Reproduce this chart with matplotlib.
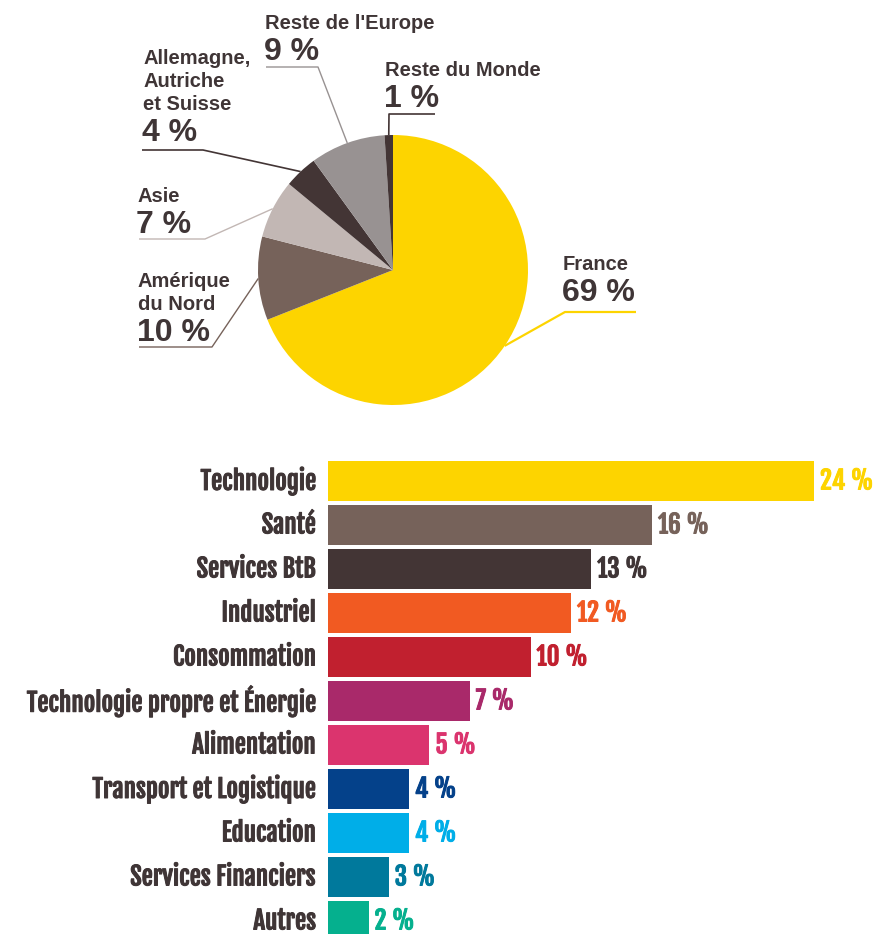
import numpy as np
import matplotlib.pyplot as plt
from matplotlib import font_manager
import matplotlib.patheffects as pe

# ── données ──
pie_labels = ["France", "Amérique\ndu Nord", "Asie", "Allemagne,\nAutriche\net Suisse",
              "Reste de l'Europe", "Reste du Monde"]
pie_values = [69, 10, 7, 4, 9, 1]
pie_colors = ["#FDD400", "#76625A", "#C2B7B4", "#433535", "#989292", "#433535"]

sectors = ["Technologie", "Santé", "Services BtB", "Industriel", "Consommation",
           "Technologie propre et Énergie", "Alimentation", "Transport et Logistique",
           "Education", "Services Financiers", "Autres"]
sector_values = [24, 16, 13, 12, 10, 7, 5, 4, 4, 3, 2]
sector_colors = ["#FDD400", "#76625A", "#433535", "#F15A22", "#C1202F", "#A9296A",
                 "#DB346E", "#04418A", "#00AEE8", "#00799C", "#05B08E"]

TXT = "#3F3536"
W, H = 874, 934

names = {f.name for f in font_manager.fontManager.ttflist}
COND = next((f for f in ["Fjalla One", "Oswald", "Roboto Condensed", "Archivo Narrow",
                         "PT Sans Narrow", "Liberation Sans Narrow"] if f in names), "DejaVu Sans")
SANS = next((f for f in ["Arimo", "Liberation Sans"] if f in names), "DejaVu Sans")

fig = plt.figure(figsize=(W / 100, H / 100), dpi=100)

# ═══ camembert ═══
cx, cy, r = 393, 270, 135
ax_pie = fig.add_axes([(cx - r) / W, 1 - (cy + r) / H, 2 * r / W, 2 * r / H])
wedges, _ = ax_pie.pie(pie_values, colors=pie_colors, startangle=90, counterclock=False,
                       radius=1, wedgeprops=dict(linewidth=0))
ax_pie.set_xlim(-1, 1)
ax_pie.set_ylim(-1, 1)
ax_pie.set_aspect("equal")
ax_pie.axis("off")

# calque en pixels pour les lignes de rappel et textes
ov = fig.add_axes([0, 0, 1, 1], zorder=5)
ov.set_xlim(0, W)
ov.set_ylim(H, 0)
ov.axis("off")

# (coude, extrémité, x texte, centre 1re ligne, couleur, épaisseur)
leaders = [
    ((565, 312), (636, 312), 563, 263, "#FDD400", 1.6),
    ((212, 347), (139, 347), 138, 280, "#76625A", 1.0),
    ((205, 239), (139, 239), 137, 195, "#C2B7B4", 1.0),
    ((203, 150), (142, 150), 143, 57, "#433535", 1.2),
    ((318, 67), (266, 67), 265, 22, "#989292", 1.0),
    ((389, 114), (435, 114), 385, 69, "#433535", 1.2),
]

for w, lab, val, (knee, end, tx, ty, lc, lw) in zip(wedges, pie_labels, pie_values, leaders):
    ang = np.deg2rad((w.theta1 + w.theta2) / 2)
    ex, ey = cx + r * np.cos(ang), cy - r * np.sin(ang)
    ov.plot([ex, knee[0], end[0]], [ey, knee[1], end[1]], color=lc, lw=lw,
            solid_capstyle="butt")
    lines = lab.split("\n")
    for k, ln in enumerate(lines):
        ov.text(tx, ty + 23 * k + 7, ln, ha="left", va="baseline", fontsize=14.5,
                fontweight="bold", color=TXT, family=SANS)
    ov.text(tx - 1, ty + 23 * (len(lines) - 1) + 27 + 11, f"{val} %", ha="left",
            va="baseline", fontsize=23, fontweight="bold", color=TXT, family=SANS)

# ═══ barres ═══
scale = 20.25          # px par %
x0, top, step = 328, 459, 44
n = len(sectors)
ax_bar = fig.add_axes([x0 / W, 1 - (top + step * n) / H, (W - x0) / W, step * n / H])
y = np.arange(n)
ax_bar.barh(y, sector_values, height=0.91, color=sector_colors, linewidth=0)
ax_bar.set_xlim(0, (W - x0) / scale)
ax_bar.set_ylim(n - 0.5, -0.5)
ax_bar.axis("off")

for i, (s, v, c) in enumerate(zip(sectors, sector_values, sector_colors)):
    vc = TXT if c == "#433535" else c
    ax_bar.text(-12 / scale, i, s, ha="right", va="center", fontsize=18,
                fontweight="bold", color=TXT, family=COND,
                path_effects=[pe.withStroke(linewidth=0.7, foreground=TXT)])
    ax_bar.text(v + 6 / scale, i, f"{v} %", ha="left", va="center", fontsize=18,
                fontweight="bold", color=vc, family=COND,
                path_effects=[pe.withStroke(linewidth=0.7, foreground=vc)])

fig.savefig("out.png", dpi=100, facecolor="white")
